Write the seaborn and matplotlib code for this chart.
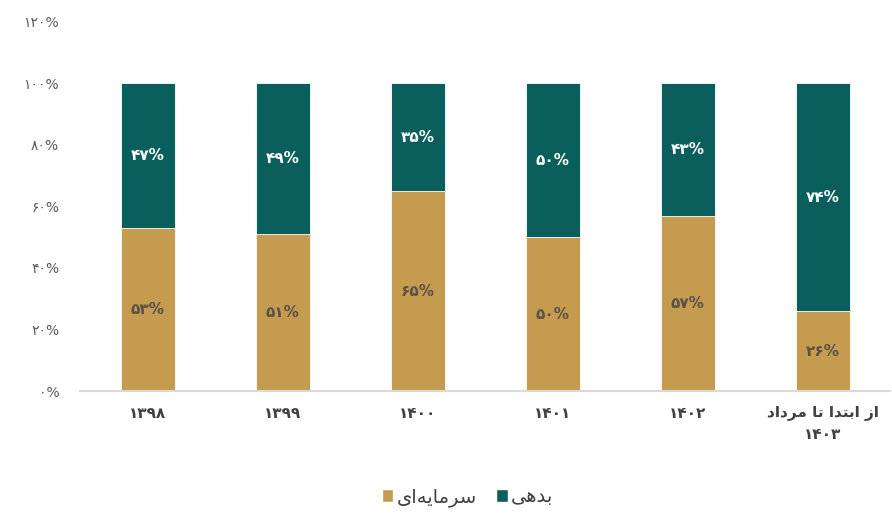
import matplotlib
matplotlib.use("Agg")
import matplotlib.pyplot as plt
import pandas as pd
import seaborn as sns
from matplotlib.patches import Patch

# matplotlib has no Arabic shaping, so the Persian words below are written
# in presentation forms, already in visual (left-to-right) order.
LBL_CAPITAL = "\uFEEF\uFE8D\uFEEA\uFEF3\uFE8E\uFEE3\uFEAE\uFEB3"   # سرمایه‌ای
LBL_DEBT = "\uFEF0\uFEEB\uFEAA\uFE91"                               # بدهی
LBL_LAST = ("\uFEA9\uFE8D\uFEA9\uFEAE\uFEE3 \uFE8E\uFE97 "
            "\uFE8D\uFEAA\uFE98\uFE91\uFE8D \uFEAF\uFE8D\n۱۴۰۳")    # از ابتدا تا مرداد ۱۴۰۳

periods = ["۱۳۹۸", "۱۳۹۹", "۱۴۰۰", "۱۴۰۱", "۱۴۰۲", LBL_LAST]
capital = [53, 51, 65, 50, 57, 26]
debt = [47, 49, 35, 50, 43, 74]
y_ticks = [0, 20, 40, 60, 80, 100, 120]

TEAL = "#0A5F5C"
GOLD = "#C59B50"

_FA = str.maketrans("0123456789", "۰۱۲۳۴۵۶۷۸۹")


def fa(v):
    return str(v).translate(_FA)


df = pd.DataFrame({"period": periods, "capital": capital, "debt": debt})
df["total"] = df["capital"] + df["debt"]

sns.set_theme(style="white")
plt.rcParams["font.family"] = ["DejaVu Sans"]

fig = plt.figure(figsize=(8.92, 5.14), dpi=100)
ax = fig.add_axes([0.0897, 0.239, 0.9083, 0.719])

# stacked: full-height teal bar, gold capital share drawn over it
sns.barplot(data=df, x="period", y="total", color=TEAL, saturation=1,
            width=0.4, edgecolor="white", linewidth=0.6, ax=ax)
sns.barplot(data=df, x="period", y="capital", color=GOLD, saturation=1,
            width=0.4, edgecolor="white", linewidth=0.6, ax=ax)

for i, row in df.iterrows():
    ax.text(i, row["capital"] / 2, f"{fa(row['capital'])}%", ha="center",
            va="center", fontsize=11, fontweight="bold", color="#5a5048")
    ax.text(i, row["capital"] + row["debt"] / 2, f"{fa(row['debt'])}%",
            ha="center", va="center", fontsize=11, fontweight="bold",
            color="white")

ax.set_xlim(-0.5, len(periods) - 0.5)
ax.set_ylim(0, 120)
ax.set_yticks(y_ticks)
ax.set_yticklabels([f"{fa(t)}%" for t in y_ticks])
ax.set_xlabel("")
ax.set_ylabel("")
ax.tick_params(axis="y", labelsize=10, colors="#595959", length=0, pad=15)
ax.tick_params(axis="x", labelsize=11, colors="#404040", length=0, pad=11)
for lbl in ax.get_xticklabels():
    lbl.set_fontweight("bold")
    lbl.set_linespacing(1.5)

for side in ["left", "right", "top"]:
    ax.spines[side].set_visible(False)
ax.spines["bottom"].set_color("#d9d9d9")
ax.spines["bottom"].set_linewidth(1.5)

handles = [Patch(facecolor=GOLD, label=LBL_CAPITAL),
           Patch(facecolor=TEAL, label=LBL_DEBT)]
fig.legend(handles=handles, loc="center", bbox_to_anchor=(0.524, 0.033),
           ncol=2, frameon=False, markerfirst=True, fontsize=14,
           handlelength=0.6, handleheight=0.6, handletextpad=0.15,
           columnspacing=1.0, labelcolor="#404040")

fig.savefig("out.png", dpi=100, facecolor="white")
plt.close(fig)
